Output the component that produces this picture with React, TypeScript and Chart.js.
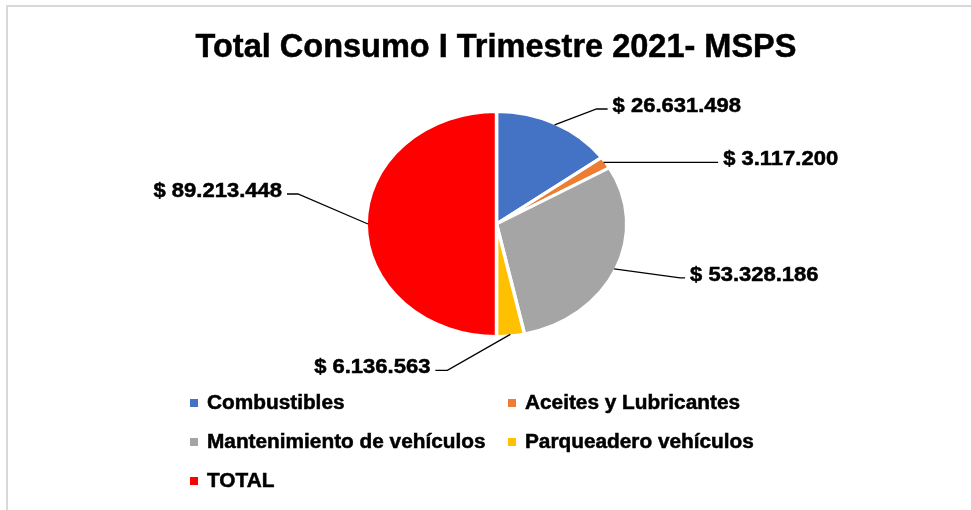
import React, { useEffect, useRef } from 'react';
import { Chart, registerables } from 'chart.js';

Chart.register(...registerables);

// ---------- data ----------
const TITLE = 'Total Consumo I Trimestre 2021- MSPS';
const CATEGORIES = [
  'Combustibles',
  'Aceites y Lubricantes',
  'Mantenimiento de vehículos',
  'Parqueadero vehículos',
  'TOTAL',
];
const VALUES = [26631498, 3117200, 53328186, 6136563, 89213448];
const COLORS = ['#4472C4', '#ED7D31', '#A5A5A5', '#FFC000', '#FF0000'];

// ---------- layout / style ----------
const W = 971;
const H = 510;
const SX = 1.158; // horizontal stretch of the pie (ellipse)
const FONT = '"Liberation Sans", Arial, sans-serif';

// leader line geometry relative to each slice's edge anchor
const LEADERS = [
  { dx: 42, dy: -16, run: 11 },
  { dx: 0, dy: -1, run: 114 },
  { dx: 66, dy: 9, run: 5 },
  { dx: -63, dy: 36, run: -12 },
  { dx: -70, dy: -30, run: -11 },
];

const LEGEND_COLS = [190, 508];
const LEGEND_ROWS = [409, 448, 487];

function fmt(v: number): string {
  return '$ ' + String(v).replace(/\B(?=(\d{3})+(?!\d))/g, '.');
}

function stretchedText(
  ctx: CanvasRenderingContext2D,
  text: string,
  x: number,
  y: number,
  sx: number,
  align: CanvasTextAlign
) {
  ctx.save();
  ctx.translate(x, y);
  ctx.scale(sx, 1);
  ctx.textAlign = align;
  ctx.textBaseline = 'alphabetic';
  ctx.fillText(text, 0, 0);
  ctx.lineWidth = 0.5;
  ctx.strokeStyle = ctx.fillStyle as string;
  ctx.strokeText(text, 0, 0);
  ctx.restore();
}

const framePlugin = {
  id: 'frame',
  beforeDraw(chart: any) {
    const ctx = chart.ctx as CanvasRenderingContext2D;
    ctx.save();
    ctx.fillStyle = '#ffffff';
    ctx.fillRect(0, 0, W, H);
    ctx.strokeStyle = '#d9d9d9';
    ctx.lineWidth = 2;
    ctx.beginPath();
    ctx.moveTo(7, H);
    ctx.lineTo(7, 6);
    ctx.lineTo(W, 6);
    ctx.stroke();
    ctx.restore();
  },
};

const ellipsePlugin = {
  id: 'ellipse',
  beforeDatasetsDraw(chart: any) {
    const ctx = chart.ctx as CanvasRenderingContext2D;
    const arc = chart.getDatasetMeta(0).data[0];
    ctx.save();
    ctx.translate(arc.x, arc.y);
    ctx.scale(SX, 1);
    ctx.translate(-arc.x, -arc.y);
  },
  afterDatasetsDraw(chart: any) {
    chart.ctx.restore();
  },
};

const annotatePlugin = {
  id: 'annotate',
  afterDraw(chart: any) {
    const ctx = chart.ctx as CanvasRenderingContext2D;
    const meta = chart.getDatasetMeta(0);
    ctx.save();

    // title
    ctx.fillStyle = '#000000';
    ctx.font = `bold 33px ${FONT}`;
    stretchedText(ctx, TITLE, 496, 57, 0.985, 'center');

    // leader lines + labels
    ctx.font = `bold 20px ${FONT}`;
    meta.data.forEach((arc: any, i: number) => {
      const mid = (arc.startAngle + arc.endAngle) / 2;
      const r = arc.outerRadius - 1.5;
      const ax = arc.x + Math.cos(mid) * r * SX;
      const ay = arc.y + Math.sin(mid) * r;
      const L = LEADERS[i];
      const ex = ax + L.dx;
      const ey = ay + L.dy;
      const hx = ex + L.run;
      ctx.strokeStyle = '#000000';
      ctx.lineWidth = 1.3;
      ctx.beginPath();
      ctx.moveTo(ax, ay);
      ctx.lineTo(ex, ey);
      ctx.lineTo(hx, ey);
      ctx.stroke();
      const right = L.run >= 0;
      ctx.fillStyle = '#000000';
      stretchedText(
        ctx,
        fmt(VALUES[i]),
        right ? hx + 5 : hx - 5,
        ey + 3,
        1.1,
        right ? 'left' : 'right'
      );
    });

    // legend
    ctx.font = `bold 20px ${FONT}`;
    CATEGORIES.forEach((name, i) => {
      const x = LEGEND_COLS[i % 2];
      const y = LEGEND_ROWS[Math.floor(i / 2)];
      ctx.fillStyle = COLORS[i];
      ctx.fillRect(x, y - 10, 8, 8);
      ctx.fillStyle = '#000000';
      stretchedText(ctx, name, x + 17, y, 1.04, 'left');
    });

    ctx.restore();
  },
};

export default function App() {
  const ref = useRef<HTMLCanvasElement>(null);

  useEffect(() => {
    if (!ref.current) return;
    const chart = new Chart(ref.current, {
      type: 'pie',
      data: {
        labels: CATEGORIES,
        datasets: [
          {
            data: VALUES,
            backgroundColor: COLORS,
            borderColor: '#ffffff',
            borderWidth: 3,
            clip: false as any,
          },
        ],
      },
      options: {
        responsive: false,
        animation: false,
        radius: 112.5,
        rotation: 0,
        layout: { padding: { left: 22, right: 0, top: 0, bottom: 62 } },
        plugins: {
          legend: { display: false },
          title: { display: false },
          tooltip: { enabled: false },
        },
        events: [],
      } as any,
      plugins: [framePlugin, ellipsePlugin, annotatePlugin],
    });
    return () => chart.destroy();
  }, []);

  return (
    <div style={{ position: 'fixed', left: 0, top: 0, width: W, height: H, background: '#fff' }}>
      <canvas ref={ref} width={W} height={H} style={{ width: W, height: H, display: 'block' }} />
    </div>
  );
}
